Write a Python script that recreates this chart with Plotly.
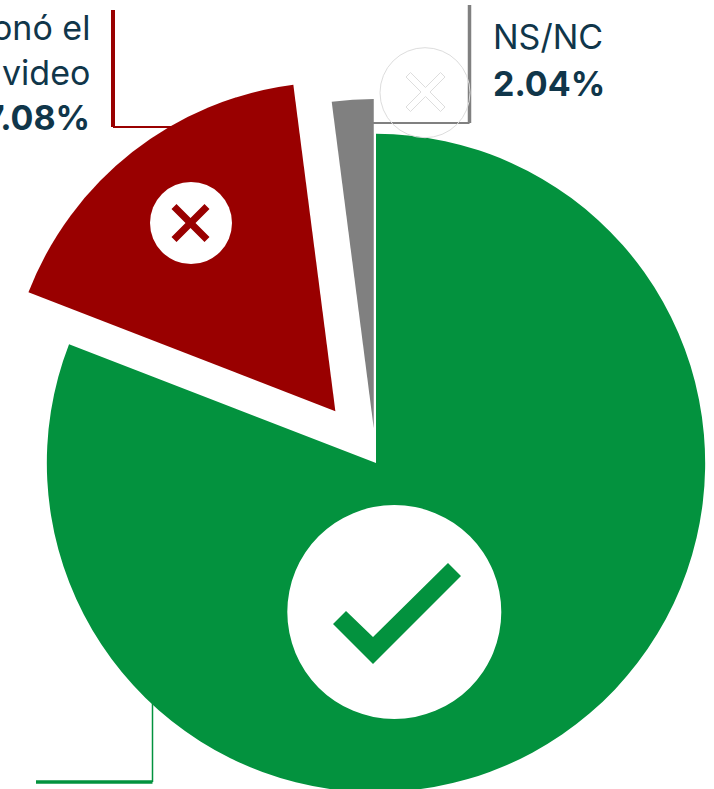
import plotly.graph_objects as go

# Data
categories = ["Sí mencionó el video", "No mencionó el video", "NS/NC"]
values = [80.88, 17.08, 2.04]
colors = ["#03923E", "#990000", "#808080"]
pulls = [0, 0.2, 0.106]
value_labels = ["17.08%", "2.04%"]

FONT = "Inter"
INK = "#10364A"
W, H = 790, 926
SHIFT = 19


def fx(x):
    return (x + SHIFT) / W


def fy(y):
    return 1 - y / H


def poly(points):
    return "M" + " L".join(f"{fx(x)},{fy(y)}" for x, y in points) + " Z"


def line(points, color, width):
    return dict(type="path", xref="paper", yref="paper", layer="below",
                path="M" + " L".join(f"{fx(x)},{fy(y)}" for x, y in points),
                line=dict(color=color, width=width), fillcolor="rgba(0,0,0,0)")


def circle(cx, cy, r, fill, outline="rgba(0,0,0,0)", width=0):
    return dict(type="circle", xref="paper", yref="paper", layer="above",
                x0=fx(cx - r), x1=fx(cx + r), y0=fy(cy + r), y1=fy(cy - r),
                fillcolor=fill, line=dict(color=outline, width=width))


def shape(points, fill, outline="rgba(0,0,0,0)", width=0):
    return dict(type="path", xref="paper", yref="paper", layer="above",
                path=poly(points), fillcolor=fill, line=dict(color=outline, width=width))


def cross(cx, cy, a, b):
    return [(cx - a, cy - a - b), (cx, cy - b), (cx + a, cy - a - b), (cx + a + b, cy - a),
            (cx + b, cy), (cx + a + b, cy + a), (cx + a, cy + a + b), (cx, cy + b),
            (cx - a, cy + a + b), (cx - a - b, cy + a), (cx - b, cy), (cx - a - b, cy - a)]


def label(text, x, y, anchor, bold=False):
    return dict(text=f"<b>{text}</b>" if bold else text, x=fx(x), y=fy(y), xref="paper", yref="paper",
                xanchor=anchor, yanchor="middle", showarrow=False,
                font=dict(family=FONT, size=34, color=INK))


fig = go.Figure(go.Pie(
    labels=categories, values=values, sort=False, direction="clockwise", rotation=0,
    pull=pulls, textinfo="none", hoverinfo="label+percent",
    marker=dict(colors=colors, line=dict(width=0)),
    domain=dict(x=[0, 1], y=[0, 1]), showlegend=False,
))

shapes = [
    line([(113, 10), (113, 127)], colors[1], 4),
    line([(113, 127), (180, 127)], colors[1], 2),
    line([(469.5, 5), (469.5, 123)], colors[2], 3.5),
    line([(469.5, 123), (372, 123)], colors[2], 2),
    line([(152.5, 700), (152.5, 782)], colors[0], 1.5),
    line([(152.5, 782), (36, 782)], colors[0], 3.5),
    circle(191, 223, 41, "white"),
    shape(cross(190.5, 223, 14, 5), colors[1]),
    circle(394.3, 612, 107, "white"),
    shape([(333, 624), (346, 611), (373, 637), (448, 563), (461, 576), (373, 664)], colors[0]),
    circle(425, 92.7, 45, "rgba(0,0,0,0)", "#DDDDDD", 1),
    shape(cross(425.5, 92, 15, 4.5), "rgba(0,0,0,0)", "#DDDDDD", 1),
]

fig.update_layout(
    width=W, height=H, margin=dict(l=0, r=0, t=0, b=0),
    paper_bgcolor="white", plot_bgcolor="white", shapes=shapes,
    annotations=[
        label("No mencionó el", 92, 27, "right"),
        label("video", 92, 72, "right"),
        label(value_labels[0], 92, 117, "right", True),
        label(categories[2], 491, 37, "left"),
        label(value_labels[1], 491, 83, "left", True),
    ],
)

post = f"""
document.documentElement.style.overflow='hidden';
document.body.style.overflow='hidden';
document.body.style.margin='0';
var gd=document.getElementsByClassName('plotly-graph-div')[0];
gd.style.position='fixed';gd.style.left='-{SHIFT}px';gd.style.top='0';
"""
fig.write_html("out.html", post_script=post, config=dict(displayModeBar=False))
